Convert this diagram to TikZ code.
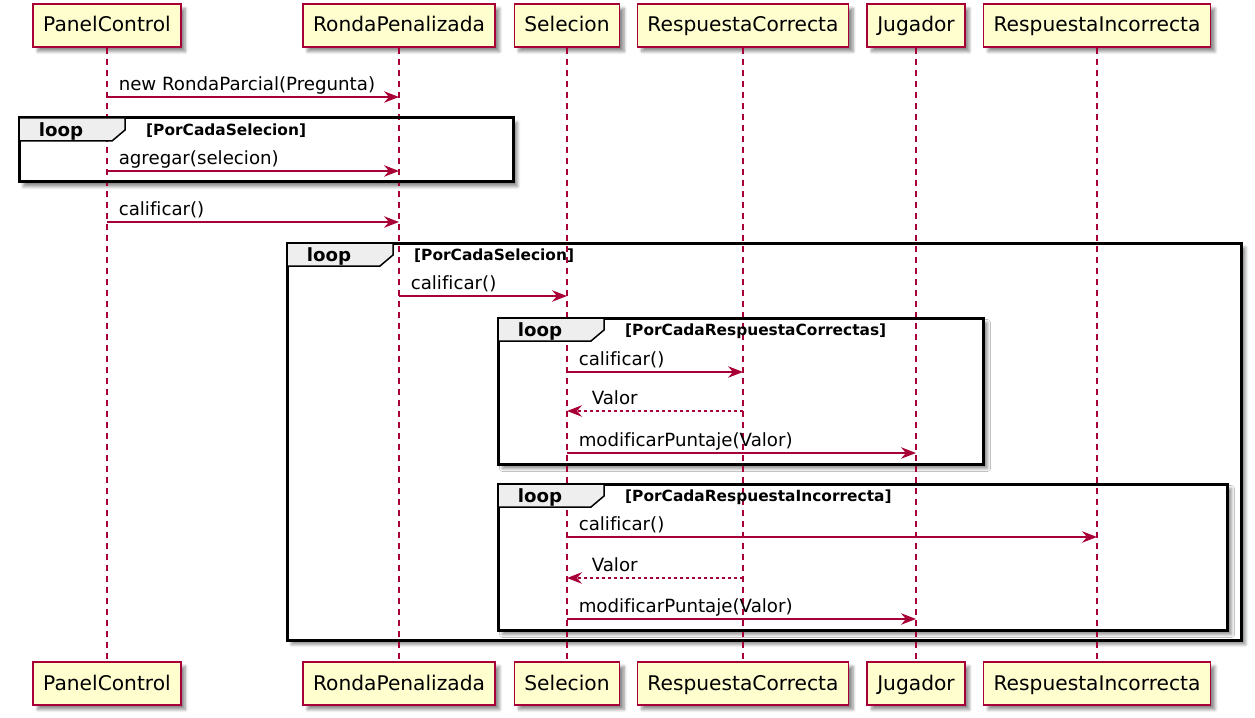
\documentclass[tikz,border=0pt]{standalone}
\usepackage{fontspec}
\setmainfont{DejaVu Sans}[Ligatures=NoCommon]
\usetikzlibrary{arrows.meta,shadows.blur}
\definecolor{umlred}{HTML}{A80036}
\definecolor{umlfill}{HTML}{FEFECE}
\definecolor{tabgray}{HTML}{EEEEEE}
\tikzset{
  softshadow/.style={blur shadow={shadow xshift=4.5bp, shadow yshift=-4.5bp,
      shadow blur steps=6, shadow blur radius=3bp, shadow opacity=45}},
  actor/.style={draw=umlred, fill=umlfill, line width=1.7bp,
      minimum height=43bp, inner xsep=10bp, inner ysep=0pt,
      text height=14.5bp, text depth=1.5bp,
      font=\fontsize{20.2bp}{24bp}\selectfont, softshadow},
  life/.style={draw=umlred, line width=1.3bp, dash pattern=on 6bp off 5bp},
  msg/.style={draw=umlred, line width=1.5bp,
      -{Stealth[length=15bp, width=11.5bp, inset=5bp]}},
  reply/.style={msg, dash pattern=on 3bp off 3bp},
  lbl/.style={font=\fontsize{18.2bp}{22bp}\selectfont, inner sep=0pt, text=black},
  framebg/.style={fill=white, softshadow},
  frameline/.style={draw=black, line width=3bp},
  tabshape/.style={fill=tabgray, draw=black, line width=1.5bp},
  looplbl/.style={font=\fontsize{18.2bp}{22bp}\selectfont\bfseries, inner sep=0pt, anchor=base},
  guardlbl/.style={font=\fontsize{15.4bp}{18bp}\selectfont\bfseries, inner sep=0pt, anchor=base west},
}
% tab of a loop fragment, upper left corner at (#1,#2)
\newcommand\looptab[3]{%
  \path[tabshape] (#1,#2) -- ++(106,0) -- ++(0,12) -- ++(-13,11) -- ++(-93,0) -- cycle;
  \node[looplbl] at (#1+42,#2+18.5) {loop};
  \node[guardlbl] at (#1+127,#2+17.5) {[#3]};
}
\begin{document}
\begin{tikzpicture}[x=1bp, y=-1bp]
\useasboundingbox (0,0) rectangle (1255,718);

% participants, head and foot
\node[actor] (pcT) at (107,25.5) {PanelControl};
\node[actor] (rpT) at (399,25.5) {RondaPenalizada};
\node[actor] (seT) at (567,25.5) {Selecion};
\node[actor] (rcT) at (743,25.5) {RespuestaCorrecta};
\node[actor] (juT) at (916,25.5) {Jugador};
\node[actor] (riT) at (1097,25.5) {RespuestaIncorrecta};
\node[actor] (pcB) at (107,683.5) {PanelControl};
\node[actor] (rpB) at (399,683.5) {RondaPenalizada};
\node[actor] (seB) at (567,683.5) {Selecion};
\node[actor] (rcB) at (743,683.5) {RespuestaCorrecta};
\node[actor] (juB) at (916,683.5) {Jugador};
\node[actor] (riB) at (1097,683.5) {RespuestaIncorrecta};

% loop fragment backgrounds
\path[framebg] (19,118) rectangle (513,182);
\path[framebg] (287,243) rectangle (1241,640);
\path[framebg] (498,318) rectangle (983,464);
\path[framebg] (498,484) rectangle (1227,630);

% lifelines
\foreach \p in {pc,rp,se,rc,ju,ri}
  \draw[life] (\p T.south) -- (\p B.north);

% loop fragment borders and tabs
\draw[frameline] (19,118) rectangle (513,182);
\draw[frameline] (287,243) rectangle (1241,640);
\draw[frameline] (498,318) rectangle (983,464);
\draw[frameline] (498,484) rectangle (1227,630);
\looptab{19}{118}{PorCadaSelecion}
\looptab{287}{243}{PorCadaSelecion}
\looptab{498}{318}{PorCadaRespuestaCorrectas}
\looptab{498}{484}{PorCadaRespuestaIncorrecta}

% messages
\draw[msg] (pcT |- 0,97) -- (rpT |- 0,97)
  node[lbl, pos=0, anchor=base west, xshift=11bp, yshift=6.5bp] {new RondaParcial(Pregunta)};
\draw[msg] (pcT |- 0,171) -- (rpT |- 0,171)
  node[lbl, pos=0, anchor=base west, xshift=11bp, yshift=6.5bp] {agregar(selecion)};
\draw[msg] (pcT |- 0,222) -- (rpT |- 0,222)
  node[lbl, pos=0, anchor=base west, xshift=11bp, yshift=6.5bp] {calificar()};
\draw[msg] (rpT |- 0,296) -- (seT |- 0,296)
  node[lbl, pos=0, anchor=base west, xshift=11bp, yshift=6.5bp] {calificar()};
\draw[msg] (seT |- 0,372) -- (rcT |- 0,372)
  node[lbl, pos=0, anchor=base west, xshift=11bp, yshift=6.5bp] {calificar()};
\draw[reply] (rcT |- 0,411) -- (seT |- 0,411)
  node[lbl, pos=1, anchor=base west, xshift=24bp, yshift=6.5bp] {Valor};
\draw[msg] (seT |- 0,453) -- (juT |- 0,453)
  node[lbl, pos=0, anchor=base west, xshift=11bp, yshift=6.5bp] {modificarPuntaje(Valor)};
\draw[msg] (seT |- 0,537) -- (riT |- 0,537)
  node[lbl, pos=0, anchor=base west, xshift=11bp, yshift=6.5bp] {calificar()};
\draw[reply] (rcT |- 0,578) -- (seT |- 0,578)
  node[lbl, pos=1, anchor=base west, xshift=24bp, yshift=6.5bp] {Valor};
\draw[msg] (seT |- 0,619) -- (juT |- 0,619)
  node[lbl, pos=0, anchor=base west, xshift=11bp, yshift=6.5bp] {modificarPuntaje(Valor)};
\end{tikzpicture}
\end{document}
